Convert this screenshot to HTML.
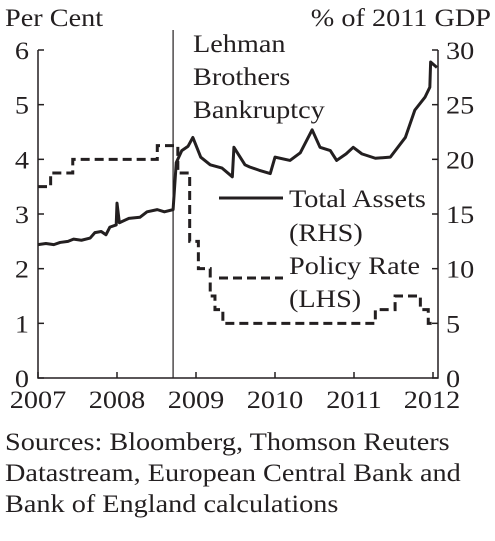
<!DOCTYPE html>
<html><head><meta charset="utf-8"><style>
body{margin:0;background:#fff;}
svg text{font-family:"Liberation Serif",serif;fill:#231f20;}
</style></head><body>
<svg width="495" height="536" viewBox="0 0 495 536">
<g id="g"></g>
</svg>
<script>
const years=[2007,2008,2009,2010,2011,2012];
const leftTicks=[0,1,2,3,4,5,6];
const rightTicks=[0,5,10,15,20,25,30];
const rateDates=[2007.0,2007.16,2007.44,2008.51,2008.77,2008.92,2009.03,2009.18,2009.24,2009.34,2011.27,2011.52,2011.84,2011.94,2012.03];
const rateValues=[3.5,3.75,4.0,4.25,3.75,2.5,2.0,1.5,1.25,1.0,1.25,1.5,1.25,1.0,1.0];
const assetDates=[2007.0,2007.1,2007.2,2007.28,2007.38,2007.45,2007.55,2007.66,2007.72,2007.8,2007.86,2007.91,2007.99,2008.0,2008.03,2008.15,2008.29,2008.38,2008.51,2008.6,2008.71,2008.75,2008.82,2008.9,2008.96,2009.06,2009.18,2009.33,2009.46,2009.48,2009.62,2009.68,2009.8,2009.94,2010.0,2010.19,2010.32,2010.47,2010.57,2010.70,2010.78,2010.9,2010.99,2011.1,2011.27,2011.46,2011.65,2011.77,2011.90,2011.96,2011.97,2012.05];
const assetValues=[12.2,12.3,12.2,12.4,12.5,12.7,12.6,12.8,13.3,13.4,13.1,13.8,14.0,16.0,14.2,14.6,14.7,15.2,15.4,15.2,15.4,19.7,20.8,21.2,22.0,20.2,19.5,19.2,18.4,21.1,19.5,19.3,19.0,18.7,20.2,19.9,20.6,22.7,21.1,20.8,19.9,20.5,21.1,20.5,20.1,20.2,22.0,24.5,25.7,26.6,28.9,28.4];
const lehman=2008.71;
const X0=38,X1=438,Y0=378,Y1=50;
const x=t=>X0+(t-2007)*79;
const yL=v=>Y0-(v/6)*(Y0-Y1);
const yR=v=>Y0-(v/30)*(Y0-Y1);
const g=document.getElementById('g');
const NS='http://www.w3.org/2000/svg';
function mk(tag,attrs){const e=document.createElementNS(NS,tag);for(const k in attrs)e.setAttribute(k,attrs[k]);g.appendChild(e);return e;}
function txt(s,xx,yy,anchor){const e=mk('text',{x:xx,y:yy,'font-size':25,'text-anchor':anchor||'start'});e.textContent=s;
 const w=e.getComputedTextLength();if(w>0){e.setAttribute('textLength',w*1.13);e.setAttribute('lengthAdjust','spacingAndGlyphs');}
 return e;}
let a=mk('path',{d:`M${X0},${Y1} V${Y0} H${X1} V${Y1}`,fill:'none',stroke:'#231f20','stroke-width':1.5});


leftTicks.forEach(v=>{
 const l=mk('line',{x1:X0,x2:X0+6,y1:yL(v),y2:yL(v),stroke:'#231f20','stroke-width':1.5});
 
 
 const t=txt(String(v),29,yL(v)+9,'end');
 
 
});
rightTicks.forEach(v=>{
 const l=mk('line',{x1:X1-6,x2:X1,y1:yR(v),y2:yR(v),stroke:'#231f20','stroke-width':1.5});
 
 
 const t=txt(String(v),446,yR(v)+9,'start');
 
 
});
years.forEach(v=>{
 const l=mk('line',{x1:x(v),x2:x(v),y1:Y0,y2:Y0-6,stroke:'#231f20','stroke-width':1.5});
 
 
 const t=txt(String(v),Math.min(x(v),432),408,'middle');
 
 
});
const lh=mk('line',{x1:x(lehman),x2:x(lehman),y1:Y1-20,y2:Y0,stroke:'#231f20','stroke-width':1.2});


let d='';
rateDates.forEach((t,i)=>{
 if(i===0)d+=`M${x(t)},${yL(rateValues[i])}`;
 else d+=` H${x(t)} V${yL(rateValues[i])}`;
});
const rp=mk('path',{d:d,fill:'none',stroke:'#231f20','stroke-width':3,'stroke-dasharray':'9,5'});


const ap=mk('path',{d:assetDates.map((t,i)=>(i?'L':'M')+x(t)+','+yR(assetValues[i])).join(' '),fill:'none',stroke:'#231f20','stroke-width':3,'stroke-linejoin':'round'});


const l1=mk('line',{x1:219,x2:283,y1:198,y2:198,stroke:'#231f20','stroke-width':3});


const l2=mk('line',{x1:219,x2:283,y1:278,y2:278,stroke:'#231f20','stroke-width':3,'stroke-dasharray':'9,5'});


[['Total Assets',289,207,'legend-assets-label'],['(RHS)',289,241,'legend-assets-rhs'],['Policy Rate',289,274,'legend-rate-label'],['(LHS)',289,307,'legend-rate-lhs'],
 ['Lehman',193,52,'lehman-label'],['Brothers',193,85,'lehman-label'],['Bankruptcy',193,118,'lehman-label'],
 ['Per Cent',5,26,'left-axis-title'],
 ['Sources: Bloomberg, Thomson Reuters',5,450,'source-note'],['Datastream, European Central Bank and',5,481,'source-note'],['Bank of England calculations',5,512,'source-note']
].forEach(r=>{const t=txt(r[0],r[1],r[2]);});
const rt=txt('% of 2011 GDP',491,26,'end');


</script>
</body></html>
